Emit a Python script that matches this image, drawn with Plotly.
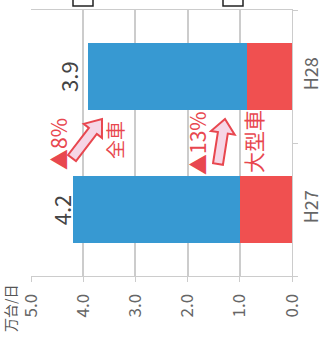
import plotly.graph_objects as go

# %% Daten (万台/日)
years = ["H27", "H28"]
large_vehicles = [0.99, 0.86]   # 大型車
other_vehicles = [3.21, 3.04]   # 残り
totals = [4.2, 3.9]
value_ticks = [0, 1, 2, 3, 4, 5]

BLUE = "#3799d2"
RED = "#f05050"
TXT_RED = "#e8474f"
GRID = "#cccccc"
FONT = "Noto Sans CJK JP"
label_shift = [-12, -21]  # Abstand der Summenbeschriftung in px

W, H = 326, 338
L, R, T, B = 31, 34, 10, 62


# pixel -> paper
def px(x):
    return (x - L) / (W - L - R)


def py(y):
    return (H - B - y) / (H - T - B)


def block_arrow(x0, y0, x1, y1, shaft=10, head=23, headlen=15):
    dx, dy = x1 - x0, y1 - y0
    ln = (dx ** 2 + dy ** 2) ** 0.5
    ux, uy = dx / ln, dy / ln
    nx, ny = -uy, ux
    nkx, nky = x0 + ux * (ln - headlen), y0 + uy * (ln - headlen)
    pts = [
        (x0 + nx * shaft / 2, y0 + ny * shaft / 2),
        (nkx + nx * shaft / 2, nky + ny * shaft / 2),
        (nkx + nx * head / 2, nky + ny * head / 2),
        (x1, y1),
        (nkx - nx * head / 2, nky - ny * head / 2),
        (nkx - nx * shaft / 2, nky - ny * shaft / 2),
        (x0 - nx * shaft / 2, y0 - ny * shaft / 2),
    ]
    path = "M " + " L ".join(f"{px(a):.4f},{py(b):.4f}" for a, b in pts) + " Z"
    return dict(type="path", xref="paper", yref="paper", path=path,
                fillcolor="#f6d6e6", line=dict(color=TXT_RED, width=2), layer="above")


fig = go.Figure()
fig.add_trace(go.Bar(y=years, x=large_vehicles, orientation="h", marker=dict(color=RED, line=dict(width=0)),
                     width=0.5, name="大型車"))
fig.add_trace(go.Bar(y=years, x=other_vehicles, orientation="h", marker=dict(color=BLUE, line=dict(width=0)),
                     width=0.5, name="全車"))

annos = []
for yr, tot, sh in zip(years, totals, label_shift):
    annos.append(dict(x=tot, y=yr, xref="x", yref="y", text=f"{tot:.1f}", showarrow=False,
                      textangle=-90, xanchor="center", yanchor="middle", xshift=sh,
                      font=dict(family=FONT, size=22, color="#444")))

# Beschriftungen zwischen den Balken
for txt, cx, cy, size in [("▲8%", 58, 144, 21), ("全車", 114, 140, 19),
                          ("▲13%", 197, 143, 21), ("大型車", 253, 142, 21)]:
    annos.append(dict(x=px(cx), y=py(cy), xref="paper", yref="paper", text=txt, showarrow=False,
                      textangle=-90, xanchor="center", yanchor="middle",
                      font=dict(family=FONT, size=size, color=TXT_RED)))

annos.append(dict(x=px(10), y=py(308), xref="paper", yref="paper", text="万台/日", showarrow=False,
                  textangle=-90, xanchor="center", yanchor="middle",
                  font=dict(family=FONT, size=14, color="#555")))

shapes = [block_arrow(72, 158, 102, 119), block_arrow(218, 164, 225, 119, head=24, headlen=14)]
# abgeschnittene Legendenkästchen oben
for x0, x1 in [(73, 93), (223, 243)]:
    shapes.append(dict(type="rect", xref="paper", yref="paper", x0=px(x0), x1=px(x1),
                       y0=py(6), y1=py(-20), fillcolor="white", line=dict(color="#222", width=1.5)))

fig.update_layout(
    barmode="stack",
    width=W, height=H,
    margin=dict(l=L, r=R, t=T, b=B, autoexpand=False),
    paper_bgcolor="white", plot_bgcolor="white",
    showlegend=False,
    annotations=annos,
    shapes=shapes,
    xaxis=dict(range=[5, 0], tickvals=value_ticks, tickformat=".1f", tickangle=-90, automargin=False,
               ticks="outside", ticklen=5, tickcolor=GRID, showline=True, linecolor=GRID, mirror=True,
               showgrid=True, gridcolor=GRID, gridwidth=1.5, zeroline=False, ticklabelstandoff=5,
               tickfont=dict(family=FONT, size=17, color="#666")),
    yaxis=dict(categoryorder="array", categoryarray=years, side="right", tickangle=-90, automargin=False,
               ticks="outside", ticklen=5, tickcolor=GRID, tickson="boundaries", ticklabelstandoff=3,
               showline=True, linecolor=GRID, showgrid=False, zeroline=False,
               tickfont=dict(family=FONT, size=18, color="#666")),
)

# Body-Rand entfernen, damit die Grafik bei (0,0) beginnt
fig.write_html("out.html", config={"displayModeBar": False},
               post_script="document.body.style.margin='0';")
